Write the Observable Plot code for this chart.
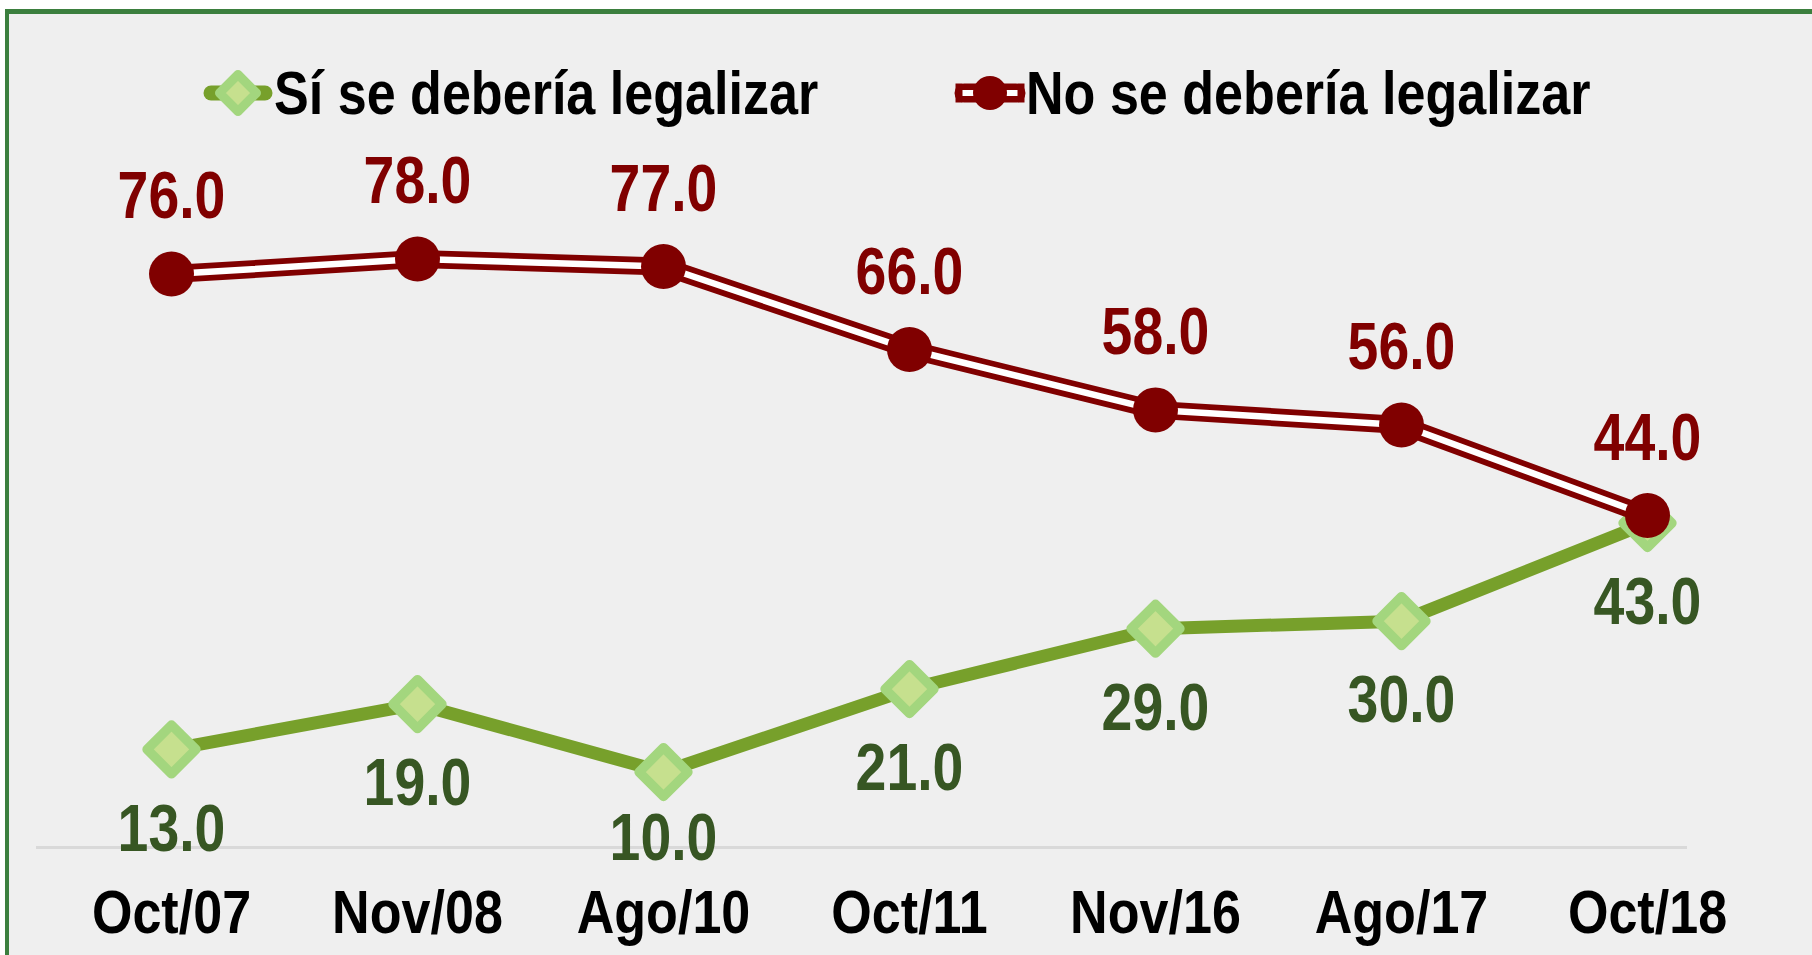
<!DOCTYPE html>
<html>
<head>
<meta charset="utf-8">
<script src="https://cdn.jsdelivr.net/npm/d3@7"></script>
<script src="https://cdn.jsdelivr.net/npm/@observablehq/plot@0.6"></script>
<style>
  html, body { margin: 0; padding: 0; background: #ffffff; }
  #wrap { position: relative; width: 1812px; height: 955px; overflow: hidden; font-family: "Liberation Sans Narrow", "Arial Narrow", "Liberation Sans", Arial, sans-serif; }
  #panel { position: absolute; left: 5px; top: 9px; width: 1900px; height: 1000px; background: #efefef; border-top: 5px solid #3b7f3e; border-left: 4px solid #3b7f3e; }
  #chart { position: absolute; left: 0; top: 0; }
  #legend { position: absolute; left: 0; top: 0; width: 1812px; height: 140px; }
  .leg { position: absolute; display: flex; align-items: center; font-weight: bold; font-size: 62px; color: #000; white-space: nowrap; }
  .leg svg { display: block; }
  .leg span { display: inline-block; transform: scaleX(0.84); transform-origin: left center; }
</style>
</head>
<body>
<div id="wrap">
  <div id="panel"></div>
  <div id="chart"></div>
  <div id="legend"></div>
</div>
<script>
const periods = ["Oct/07", "Nov/08", "Ago/10", "Oct/11", "Nov/16", "Ago/17", "Oct/18"];
const seriesNames = ["Sí se debería legalizar", "No se debería legalizar"];
const siValues = [13.0, 19.0, 10.0, 21.0, 29.0, 30.0, 43.0];
const noValues = [76.0, 78.0, 77.0, 66.0, 58.0, 56.0, 44.0];

const siData = periods.map((p, i) => ({period: p, value: siValues[i]}));
const noData = periods.map((p, i) => ({period: p, value: noValues[i]}));

const RED = "#800000";
const OLIVE = "#77a02b";
const DIAMOND_STROKE = "#a3d67e";
const DIAMOND_FILL = "#c6e08e";
const SI_LABEL = "#375623";
const NARROW = 0.84;

const chart = Plot.plot({
  width: 1812,
  height: 955,
  marginLeft: 36,
  marginRight: 125,
  marginTop: 92,
  marginBottom: 108,
  style: {background: "transparent", fontFamily: "'Liberation Sans Narrow', 'Arial Narrow', 'Liberation Sans', Arial, sans-serif", color: "#000"},
  x: {type: "point", domain: periods, range: [171, 1647], padding: 0},
  y: {domain: [0, 100], range: [847, 92.5]},
  marks: [
    Plot.ruleY([0], {stroke: "#d9d9d9", strokeWidth: 3}),
    Plot.axisX({tickSize: 0, tickPadding: 41, fontSize: 62, fontWeight: "bold", fill: "#000", label: null}),
    Plot.axisY({ticks: [], label: null, tickSize: 0}),
    // Sí series
    Plot.line(siData, {x: "period", y: "value", stroke: OLIVE, strokeWidth: 13, strokeLinejoin: "round", strokeLinecap: "round"}),
    Plot.dot(siData, {x: "period", y: "value", symbol: "diamond2", r: 22, fill: DIAMOND_FILL, stroke: DIAMOND_STROKE, strokeWidth: 9.5, strokeLinejoin: "round"}),
    // labels sit below the point, but are kept clear of the category axis labels
    Plot.text(siData, {x: "period", y: d => Math.max(d.value - 7.2, 4.5), text: d => d.value.toFixed(1), lineAnchor: "top", fontSize: 66, fontWeight: "bold", fill: SI_LABEL}),
    // No series (double line)
    Plot.line(noData, {x: "period", y: "value", stroke: RED, strokeWidth: 18, strokeLinejoin: "round"}),
    Plot.line(noData, {x: "period", y: "value", stroke: "#ffffff", strokeWidth: 6.5, strokeLinejoin: "round"}),
    Plot.dot(noData, {x: "period", y: "value", r: 22.5, fill: RED, stroke: "none"}),
    Plot.text(noData, {x: "period", y: "value", text: d => d.value.toFixed(1), lineAnchor: "bottom", dy: -56, fontSize: 66, fontWeight: "bold", fill: RED})
  ]
});
// Condense the bold sans text horizontally (Arial Narrow look), scaling about each text's anchor
chart.querySelectorAll("text").forEach(t => {
  const tr = t.getAttribute("transform") || "";
  t.setAttribute("transform", `${tr} scale(${NARROW},1)`.trim());
});
document.getElementById("chart").appendChild(chart);

// Legend (HTML overlay)
const legend = document.getElementById("legend");
function siSymbol() {
  return `<svg width="72" height="60" viewBox="-36 -30 72 60">
    <line x1="-27" y1="0" x2="27" y2="0" stroke="${OLIVE}" stroke-width="15" stroke-linecap="round"/>
    <path d="M0,-18.5L18.5,0L0,18.5L-18.5,0Z" fill="${DIAMOND_FILL}" stroke="${DIAMOND_STROKE}" stroke-width="9" stroke-linejoin="round"/>
  </svg>`;
}
function noSymbol() {
  return `<svg width="72" height="60" viewBox="-36 -30 72 60">
    <line x1="-26" y1="0" x2="26" y2="0" stroke="${RED}" stroke-width="19" stroke-linecap="round"/>
    <line x1="-28" y1="0" x2="28" y2="0" stroke="#ffffff" stroke-width="6"/>
    <line x1="-31" y1="-9.5" x2="-31" y2="9.5" stroke="${RED}" stroke-width="7"/>
    <line x1="31" y1="-9.5" x2="31" y2="9.5" stroke="${RED}" stroke-width="7"/>
    <circle cx="0" cy="0" r="17" fill="${RED}"/>
  </svg>`;
}
const legendItems = [
  {name: seriesNames[0], symbol: siSymbol(), left: 202},
  {name: seriesNames[1], symbol: noSymbol(), left: 954}
];
for (const item of legendItems) {
  const el = document.createElement("div");
  el.className = "leg";
  el.style.left = item.left + "px";
  el.style.top = "57px";
  el.innerHTML = item.symbol + `<span>${item.name}</span>`;
  legend.appendChild(el);
}
</script>
</body>
</html>
